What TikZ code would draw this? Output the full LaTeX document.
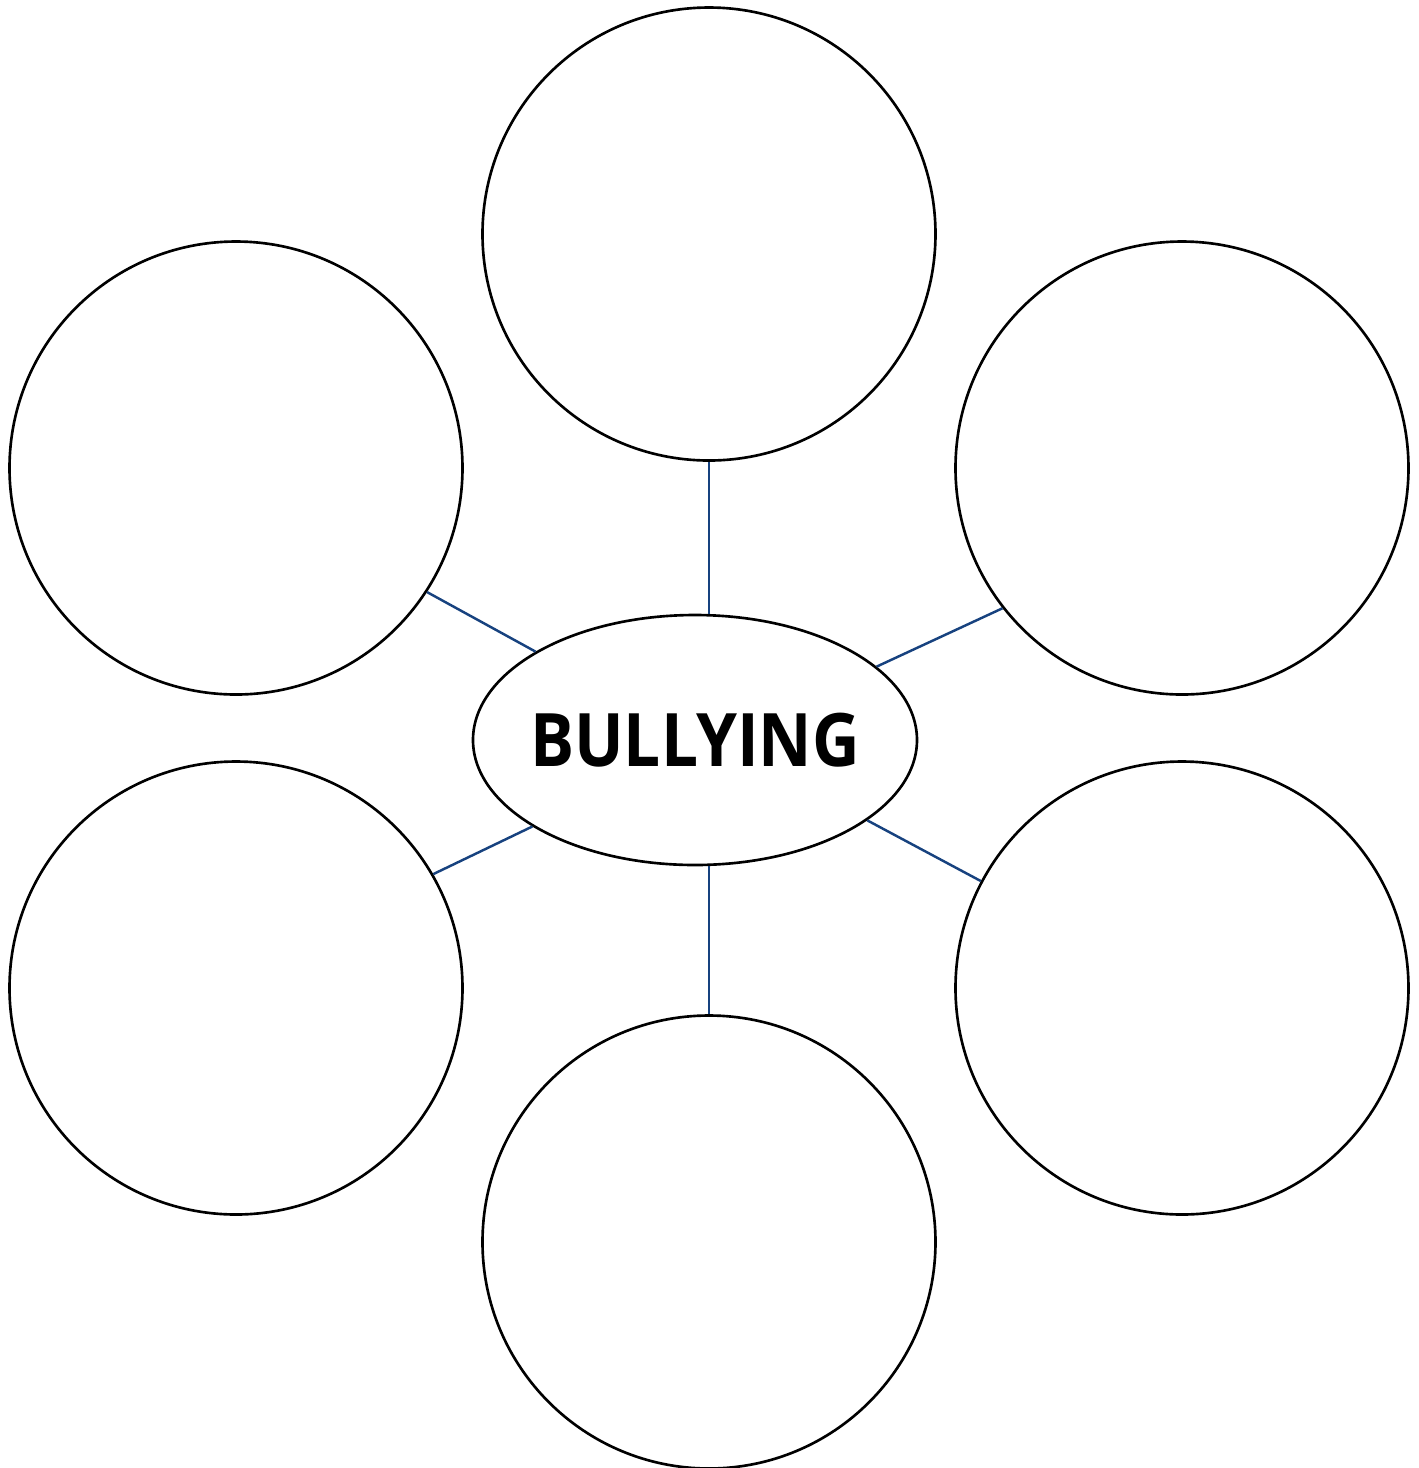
\documentclass[tikz,border=0pt]{standalone}
\usepackage{fontspec}
\setsansfont{Open Sans}
\newfontfamily\hubfont[FakeStretch=0.89]{Open Sans}
\usetikzlibrary{shapes.geometric}
\definecolor{webBlue}{HTML}{17427F}

\begin{document}
\begin{tikzpicture}[font=\sffamily,
        bubble/.style={draw=black,line width=0.75pt,circle,minimum size=4.53cm,inner sep=0pt},
        hubnode/.style={draw=black,line width=0.75pt,ellipse,minimum width=4.44cm,minimum height=2.5cm,
                        inner sep=0pt},
        spoke/.style={draw=webBlue,line width=0.7pt}]
        \useasboundingbox (0,0) rectangle (14.19,-14.68);
        \node[hubnode,label={[font=\hubfont\bfseries\fontsize{21}{24}\selectfont]center:BULLYING}] (hub) at (6.95,-7.40) {};
        \node[bubble] (top) at (7.09,-2.34) {};
        \node[bubble] (tl) at (2.36,-4.68) {};
        \node[bubble] (tr) at (11.82,-4.68) {};
        \node[bubble] (bl) at (2.36,-9.88) {};
        \node[bubble] (br) at (11.82,-9.88) {};
        \node[bubble] (bot) at (7.09,-12.42) {};
        \draw[spoke] (top.south) -- (top.south |- hub.north);
        \draw[spoke] (bot.north) -- (bot.north |- hub.south);
        \draw[spoke] (tl.-33.5) -- (hub.151);
        \draw[spoke] (tr.-142.3) -- (hub.22.6);
        \draw[spoke] (bl.30.6) -- (hub.208.1);
        \draw[spoke] (br.152.3) -- (hub.-25.9);
      \end{tikzpicture}
\end{document}
